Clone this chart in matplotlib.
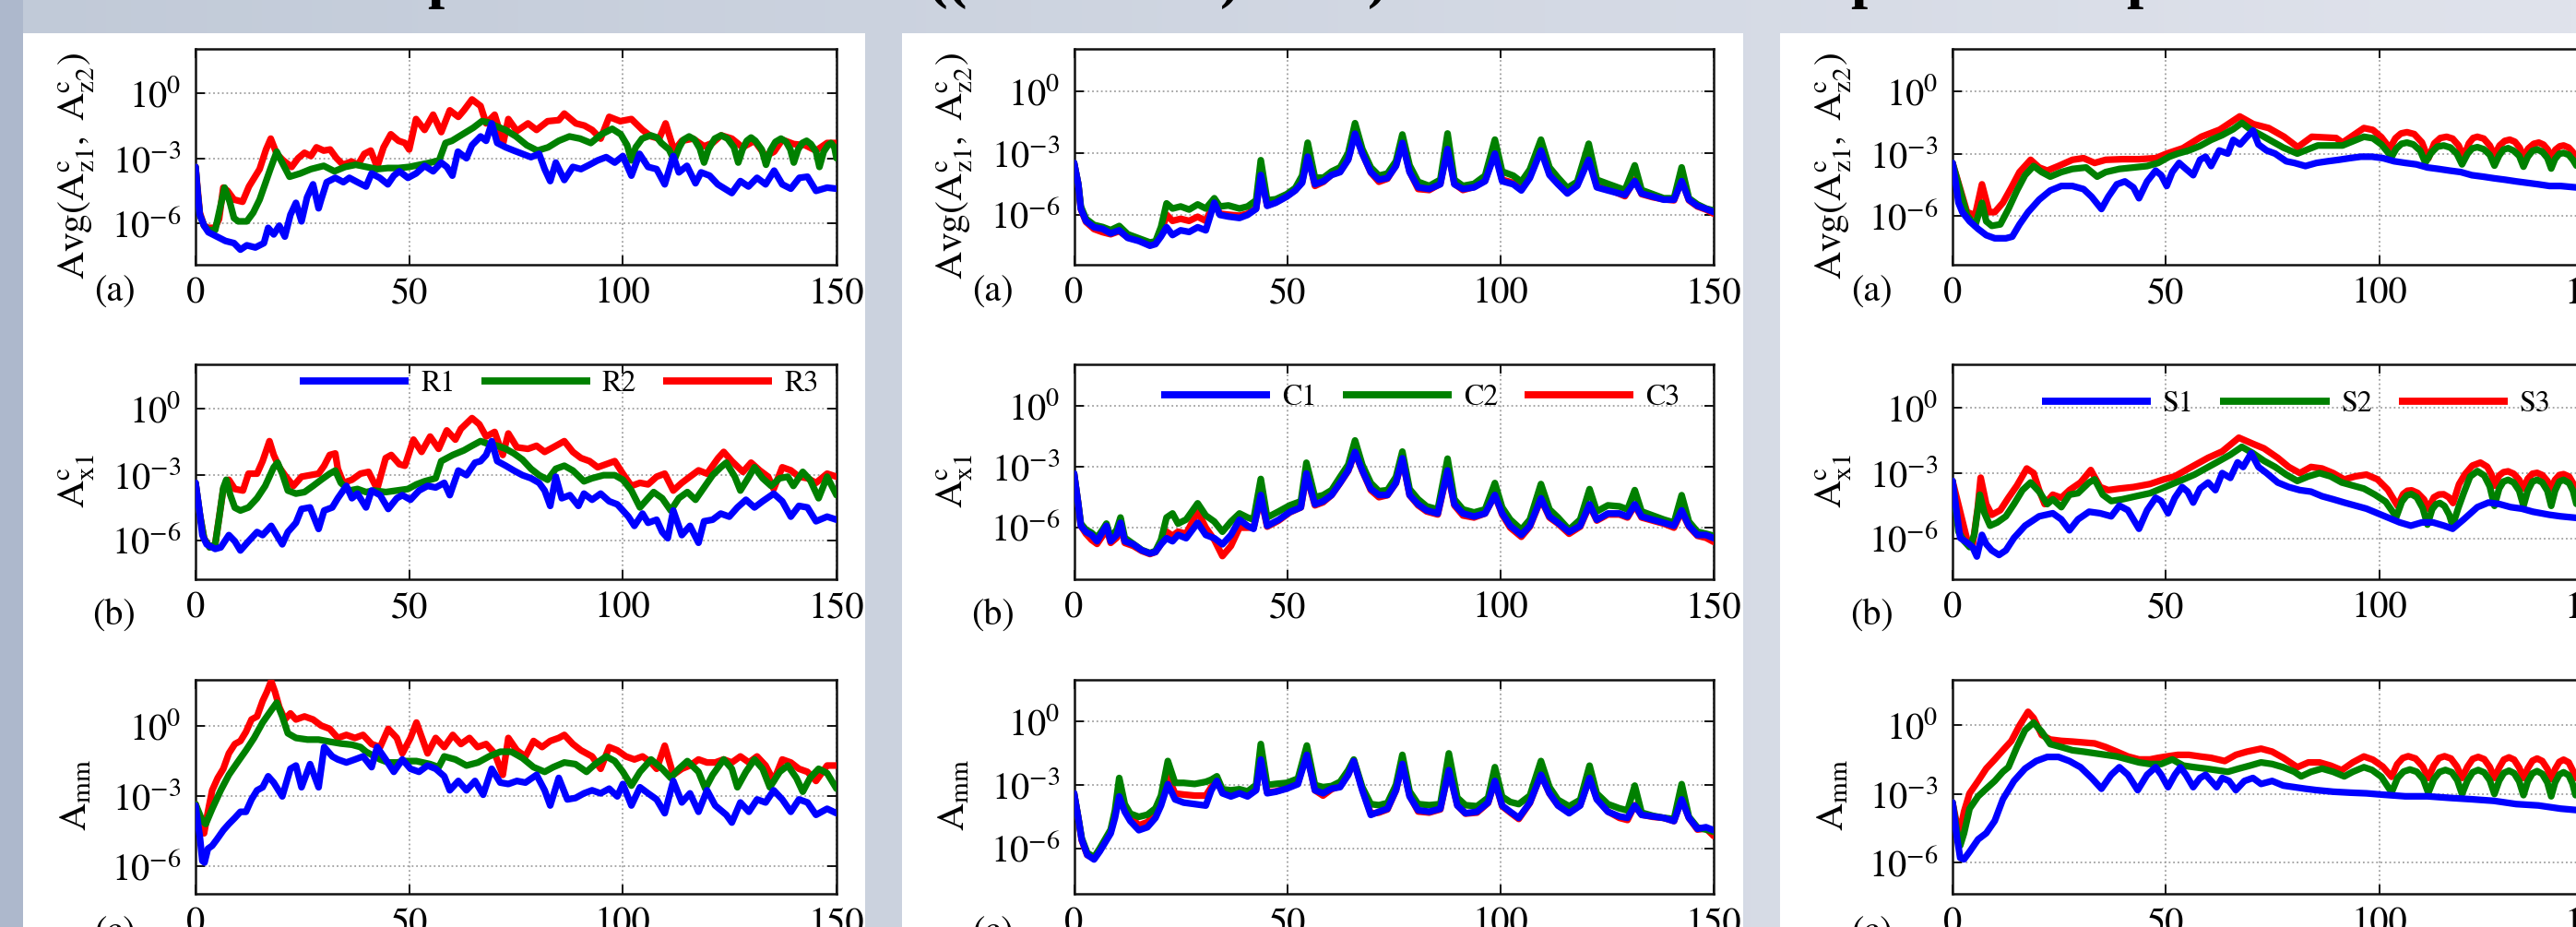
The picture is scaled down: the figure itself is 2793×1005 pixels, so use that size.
import numpy as np
import matplotlib
matplotlib.use('Agg')
import matplotlib.pyplot as plt
from matplotlib.patches import Rectangle
from matplotlib.lines import Line2D
from matplotlib.ticker import NullLocator

plt.rcParams['font.family'] = ['STIXGeneral', 'DejaVu Serif']
plt.rcParams['mathtext.fontset'] = 'stix'
plt.rcParams['axes.unicode_minus'] = False

# ---------------- data (x, log10 of amplitude) ----------------
# Panel 1 : R1 (blue), R2 (green), R3 (red)
p1a_R1 = [(0,-3.4),(0.5,-4.6),(1,-5.6),(2,-6.1),(3,-6.4),(5,-6.6),(7,-6.8),(9,-6.9),(10.5,-7.2),(12,-7.0),(14,-7.1),(16,-6.9),(17,-6.2),(18.3,-6.5),(19.6,-6.1),(20.9,-6.6),(22.2,-5.6),(23.5,-5.05),(24.8,-5.9),(26.1,-4.8),(27.5,-4.2),(28.8,-5.3),(29.4,-4.9),(30.7,-4.1),(32.7,-3.9),(34.6,-4.1),(36,-3.9),(37.9,-4.1),(39.9,-4.3),(41.2,-3.7),(43.1,-3.9),(45,-4.2),(46.4,-3.8),(47.7,-3.6),(49.7,-3.9),(51.6,-3.7),(53.6,-3.35),(55.6,-3.6),(57.5,-3.2),(58.8,-3.4),(60.1,-3.8),(61.4,-2.7),(63.4,-3.0),(64.7,-2.4),(66.7,-2.0),(68,-2.2),(69.3,-1.4),(70.6,-2.3),(72.6,-2.5),(74.5,-2.65),(76.5,-2.8),(78.5,-2.95),(80.4,-2.8),(81.7,-3.5),(83,-4.05),(84.3,-3.2),(86.3,-4.0),(88.3,-3.4),(90.2,-3.5),(92.2,-3.3),(94.1,-3.1),(96.1,-2.95),(98.1,-3.2),(100,-2.9),(102,-3.8),(103.9,-2.8),(105.9,-3.4),(107.9,-3.5),(109.8,-4.2),(111.8,-2.9),(113.1,-3.65),(115,-3.35),(117,-4.15),(118.3,-3.65),(120.3,-3.8),(122.2,-4.2),(125.5,-4.6),(127.5,-4.05),(129.4,-4.3),(131.4,-3.9),(133.4,-4.2),(135.4,-3.57),(137.3,-4.2),(139.3,-4.4),(141.3,-3.9),(143.2,-3.85),(145.2,-4.5),(147.8,-4.35),(150,-4.4)]
p1a_R2 = [(0,-3.4),(0.5,-4.6),(1,-5.6),(2,-6.1),(3,-6.3),(4.6,-6.3),(5.5,-5.5),(6.8,-4.35),(8,-5.0),(9,-5.75),(10,-5.9),(12,-5.9),(13.5,-5.5),(15,-4.9),(17.5,-3.5),(19,-2.7),(20,-3.1),(22,-3.85),(24.5,-3.7),(27,-3.5),(30,-3.35),(32.5,-3.6),(35,-3.4),(37.5,-3.3),(40,-3.4),(42.5,-3.5),(45,-3.45),(47.5,-3.45),(50,-3.4),(52.5,-3.3),(55,-3.2),(57,-3.1),(58.5,-2.3),(60,-2.2),(62.5,-1.9),(65,-1.6),(67,-1.3),(68.5,-1.35),(70,-1.5),(72.5,-1.7),(75,-2.0),(77.5,-2.4),(80,-2.65),(82.5,-2.5),(85,-2.2),(87.5,-2.0),(90,-2.1),(92.5,-2.3),(95,-1.9),(97.5,-1.65),(99.5,-1.9),(101,-2.4),(102,-3.1),(103,-2.5),(104.5,-2.1),(106.5,-1.95),(108,-2.05),(109,-2.3),(110.8,-2.6),(112,-3.1),(113.2,-2.5),(114.2,-2.15),(115.5,-2.0),(116.8,-2.15),(118,-2.55),(119,-3.2),(120,-2.6),(121.5,-2.1),(123,-1.95),(124.5,-2.1),(126,-2.5),(127,-3.2),(128,-2.6),(129,-2.2),(130,-2.05),(131,-2.2),(132.5,-2.6),(133.5,-3.3),(134.5,-2.65),(135.7,-2.25),(137,-2.1),(138.2,-2.25),(139.2,-2.6),(140,-3.2),(141,-2.6),(142,-2.3),(143,-2.2),(144,-2.35),(145.2,-2.7),(146,-3.4),(147,-2.7),(148,-2.4),(148.7,-2.3),(149.5,-2.5),(150,-3.0)]
p1a_R3 = [(0,-3.4),(1,-5.5),(2,-6.1),(3,-6.2),(4.5,-6.2),(5.5,-5.8),(6.5,-4.35),(7.5,-4.5),(9,-4.9),(11,-5.0),(12.5,-4.3),(15,-3.5),(16.5,-2.6),(17.6,-2.1),(19,-2.8),(20.5,-3.1),(22.5,-3.4),(24,-3.0),(25.5,-2.75),(27,-2.9),(28.3,-2.5),(30,-2.65),(31.5,-2.6),(33,-3.0),(34.5,-3.3),(36.5,-3.15),(38,-3.3),(39.5,-2.8),(41,-2.65),(42.5,-3.4),(44,-2.5),(45.7,-1.9),(47.5,-2.2),(49,-2.3),(50,-2.6),(51.6,-1.2),(53.6,-1.7),(55.6,-1.0),(57.5,-1.8),(59.5,-0.8),(61.5,-1.1),(62.8,-0.8),(64.7,-0.3),(66.7,-0.6),(68,-1.4),(70,-1.0),(72,-2.3),(73.2,-1.2),(75.2,-1.75),(77.8,-1.4),(79.8,-1.7),(82.4,-1.3),(85,-1.25),(86.3,-0.95),(89,-1.4),(91,-1.5),(92.8,-1.7),(94.8,-2.1),(96.8,-1.1),(99.4,-1.3),(102,-1.2),(104.6,-1.7),(106.6,-2.0),(108.5,-2.1),(110,-1.4),(112,-2.65),(113.8,-2.2),(116.4,-2.1),(119,-2.45),(121,-2.3),(123,-1.95),(125.5,-2.1),(128,-2.5),(130.8,-2.2),(133.4,-2.9),(135.4,-2.7),(137.3,-2.15),(140,-2.35),(142.6,-2.4),(145.2,-2.65),(147.8,-2.3),(150,-2.3)]

p1b_R1 = [(0,-3.37),(1,-4.77),(1.6,-5.75),(2.6,-6.17),(4.6,-6.38),(5.9,-6.31),(7.8,-5.75),(9.2,-6.03),(10.5,-6.45),(12.4,-6.03),(14.4,-5.61),(15.7,-5.75),(17.7,-5.33),(19,-5.75),(20.3,-6.17),(21.6,-5.61),(23.5,-5.19),(24.8,-4.56),(26.8,-4.49),(28.8,-5.47),(30.1,-4.63),(32,-4.49),(33.3,-4.07),(35.3,-3.51),(36.6,-4.07),(37.9,-3.86),(39.9,-4.49),(41.2,-3.72),(43.2,-3.93),(45.1,-4.56),(47.1,-4.07),(48.4,-3.93),(50.3,-4.14),(52.3,-3.72),(54.3,-3.51),(56.2,-3.58),(58.2,-3.37),(59.5,-3.93),(61.5,-2.81),(63.4,-3.02),(65.4,-2.45),(66.7,-2.38),(68,-2.1),(69.3,-1.47),(70.6,-2.38),(72.6,-2.59),(74.5,-2.81),(76.5,-3.02),(78.5,-3.16),(80.4,-3.37),(81.7,-3.72),(83,-4.42),(84.3,-3.09),(85.7,-4.07),(87.6,-3.93),(89.6,-4.42),(90.9,-3.86),(92.8,-4.14),(94.8,-3.86),(96.8,-4.21),(98.7,-4.35),(100,-4.63),(101.3,-4.91),(102.7,-5.33),(104.6,-4.77),(105.9,-5.19),(107.9,-5.05),(109.2,-5.61),(110.5,-5.89),(111.8,-4.63),(113.8,-5.75),(115.7,-5.33),(117.7,-6.1),(119,-5.12),(121,-5.05),(122.9,-4.77),(124.9,-4.91),(126.8,-4.49),(128.8,-4.14),(130.8,-4.49),(132.7,-4.21),(135.3,-3.86),(137.3,-4.21),(139.3,-4.91),(141.2,-4.42),(143.2,-4.49),(145.2,-5.12),(147.8,-4.91),(150,-5.05)]
p1b_R2 = [(0,-3.37),(1,-4.8),(2,-5.9),(3.3,-6.31),(4.6,-6.17),(5.5,-5.0),(6.5,-3.6),(7.2,-3.23),(8.1,-3.9),(9.2,-4.5),(10.5,-4.63),(12.4,-4.49),(14.4,-4.07),(16.3,-3.51),(18.3,-2.66),(19.2,-2.45),(20.3,-2.95),(21.6,-3.72),(23.5,-3.86),(25.5,-3.79),(27.5,-3.51),(29.4,-3.23),(31.4,-2.95),(32.7,-2.81),(34,-3.37),(36,-3.72),(37.9,-3.65),(39.9,-3.79),(41.8,-3.72),(44.5,-3.79),(47.1,-3.72),(49.7,-3.65),(51.7,-3.44),(53.6,-3.3),(56.2,-3.16),(57.5,-2.38),(60.2,-2.1),(62.8,-1.89),(64.7,-1.68),(66.7,-1.47),(68.7,-1.61),(70.6,-1.68),(72.6,-1.82),(74.5,-2.03),(76.5,-2.31),(78.5,-2.73),(80.4,-3.02),(82.4,-3.23),(84.3,-2.73),(86.3,-2.59),(88.3,-2.81),(90.9,-3.3),(92.8,-3.16),(95.5,-3.02),(98.1,-3.02),(100,-3.23),(102,-3.72),(104,-4.49),(105.9,-4.07),(107.2,-3.79),(109.2,-4.07),(111.2,-4.63),(113.1,-4.07),(115.1,-3.79),(117,-4.14),(119,-3.58),(121,-3.02),(122.9,-2.66),(124.2,-2.45),(126.2,-3.09),(127.5,-3.72),(129.5,-3.09),(130.8,-2.66),(132.7,-3.16),(134.7,-3.51),(136.7,-3.16),(138.6,-3.09),(139.9,-3.51),(142.1,-2.87),(143.8,-3.23),(145.8,-4.07),(147.8,-3.09),(150,-3.93)]
p1b_R3 = [(0,-3.37),(1,-4.8),(2,-5.9),(3.3,-6.3),(4.6,-6.17),(6.5,-3.65),(7.8,-3.23),(9.2,-3.65),(11.1,-3.72),(12.4,-2.95),(14.4,-2.95),(15.7,-2.38),(17.3,-1.47),(18.3,-2.1),(19.6,-2.66),(20.9,-3.02),(22.9,-3.51),(24.8,-3.09),(26.8,-3.02),(28.8,-2.95),(30.1,-2.59),(31.4,-2.1),(32.7,-2.03),(33.3,-2.73),(34.6,-3.37),(36.6,-3.23),(38.6,-2.95),(40.5,-2.87),(42.5,-3.65),(44.5,-2.24),(45.8,-2.1),(47.7,-2.52),(49,-2.59),(51,-1.4),(52.9,-1.96),(54.9,-1.26),(56.9,-1.82),(58.8,-0.98),(60.8,-1.4),(62.1,-0.91),(64.7,-0.42),(66.4,-0.7),(68,-1.26),(70,-1.05),(71.9,-2.1),(73.2,-1.12),(75.2,-1.75),(77.8,-1.82),(79.8,-1.68),(81.7,-1.96),(83.7,-1.75),(86.3,-1.47),(88.3,-1.96),(90.2,-2.24),(92.2,-2.38),(94.1,-2.66),(96.1,-2.52),(98.1,-2.38),(100,-2.95),(102,-3.51),(104,-3.37),(105.9,-3.44),(107.9,-3.09),(109.8,-2.95),(111.8,-3.72),(113.8,-3.37),(115.7,-3.09),(117.7,-2.8),(119.7,-2.95),(122.3,-2.24),(123.6,-1.96),(125.5,-2.38),(128.1,-2.87),(130,-2.45),(132,-2.8),(134,-3.09),(135.3,-3.65),(137.3,-2.66),(139.3,-2.8),(141.2,-3.09),(143.2,-3.16),(145.2,-3.37),(147.8,-2.95),(150,-3.09)]

p1c_R1 = [(0,-3.39),(1,-4.71),(1.6,-5.76),(2.1,-5.83),(2.9,-5.24),(3.9,-5.11),(5,-4.84),(6.5,-4.45),(7.8,-4.18),(9.2,-3.92),(10.5,-3.66),(11.8,-3.66),(13.1,-3.13),(14.4,-2.74),(15.7,-2.61),(17,-2.14),(18.3,-2.41),(20.3,-3.0),(22.2,-1.82),(23.5,-1.68),(24.8,-2.61),(26.8,-1.62),(28.8,-2.61),(30.1,-0.89),(32,-1.29),(33.3,-1.42),(35.3,-1.55),(37.3,-1.42),(39.2,-1.29),(41.2,-1.75),(42.5,-0.89),(44.5,-1.42),(46.4,-1.95),(48.4,-1.42),(50.3,-1.82),(52.3,-1.95),(54.3,-1.68),(56.2,-1.82),(58.2,-2.14),(59.5,-2.74),(61.5,-2.34),(63.4,-2.74),(65.4,-2.34),(67.3,-2.93),(69.3,-1.82),(71.3,-2.41),(73.2,-2.47),(75.2,-2.34),(77.2,-2.41),(79.8,-2.08),(81.7,-2.74),(83,-3.39),(85,-2.21),(87,-3.13),(88.9,-3.07),(90.9,-2.87),(92.8,-2.74),(94.8,-2.87),(96.8,-2.67),(98.7,-3.0),(100,-2.47),(102,-3.39),(104,-2.61),(105.9,-2.87),(107.9,-3.13),(109.8,-3.72),(111.8,-2.34),(113.8,-3.26),(115.7,-2.87),(117.7,-3.66),(119.7,-2.74),(121.6,-3.39),(124.2,-3.79),(125.5,-4.12),(127.5,-3.26),(129.5,-3.66),(131.4,-3.13),(133.4,-3.26),(135.3,-2.74),(137.3,-3.13),(139.3,-3.66),(141.2,-3.13),(143.2,-3.26),(145.2,-3.79),(147.8,-3.53),(150,-3.72)]
p1c_R2 = [(0,-3.33),(1.6,-4.05),(2.4,-4.18),(3.9,-3.53),(5.9,-2.74),(7.8,-2.08),(9.8,-1.55),(11.8,-1.03),(13.7,-0.5),(15.7,0.16),(17.7,0.68),(19,1.01),(20.3,0.42),(21.6,-0.3),(23.5,-0.5),(26.2,-0.57),(28.8,-0.57),(31.4,-0.66),(34,-0.74),(36.6,-0.79),(38.6,-0.89),(39.9,-1.09),(41.2,-1.22),(43.2,-1.42),(45.1,-1.55),(47.1,-1.55),(49,-1.49),(51.7,-1.49),(54.9,-1.62),(56.9,-1.75),(58.2,-1.29),(60.8,-1.42),(63.4,-1.68),(66.1,-1.55),(68.7,-1.29),(71.3,-1.09),(73.9,-1.09),(76.5,-1.36),(79.1,-1.75),(81.7,-1.95),(83.7,-1.75),(86.3,-1.55),(88.9,-1.62),(91.5,-1.95),(93.5,-1.62),(96.1,-1.29),(98.1,-1.49),(100,-1.95),(102,-2.54),(104,-1.95),(106.6,-1.42),(109.2,-1.82),(111.2,-2.21),(113.1,-1.82),(115.1,-1.49),(117.7,-1.95),(119.3,-2.67),(121,-2.08),(123.6,-1.42),(125.5,-1.82),(126.8,-2.61),(128.8,-1.95),(130.8,-1.42),(132.7,-1.82),(134.4,-2.61),(136.7,-1.95),(138.6,-1.68),(140.6,-2.21),(142.1,-2.8),(143.8,-2.21),(145.8,-1.82),(147.8,-2.01),(150,-2.67)]
p1c_R3 = [(0,-3.33),(2,-4.58),(2.9,-3.66),(3.9,-2.74),(5.2,-2.21),(6.5,-1.82),(7.8,-1.16),(9.2,-0.76),(10.5,-0.63),(11.8,-0.24),(13.1,0.29),(14.4,0.42),(15.7,1.08),(16.7,1.47),(17.7,1.93),(18.6,1.47),(19.6,0.82),(20.9,0.29),(22.2,0.55),(23.5,0.29),(25.5,0.42),(27.5,0.29),(29.4,0.03),(31.4,-0.11),(33.3,-0.5),(35.3,-0.37),(37.3,-0.5),(39.2,-0.37),(41.2,-0.76),(43.2,-0.89),(45.1,-0.11),(47.1,-0.5),(48.4,-1.16),(50.3,-0.5),(51.7,0.16),(53,-0.5),(54.3,-1.16),(56.2,-0.5),(58.2,-0.89),(60.2,-0.37),(62.1,-0.76),(64.1,-0.5),(66,-0.89),(68,-0.76),(70,-1.16),(71.9,-2.08),(73.2,-0.5),(75.2,-1.03),(77.2,-1.29),(79.1,-0.63),(81.1,-0.89),(83,-0.63),(85,-0.5),(86.3,-0.37),(88.3,-0.76),(90.2,-1.03),(92.8,-1.29),(94.8,-1.82),(96.8,-0.89),(98.7,-1.03),(100.7,-1.29),(102.7,-1.42),(104.6,-1.29),(106.6,-1.55),(107.9,-1.82),(109.8,-0.83),(111.8,-2.08),(113.8,-1.82),(115.7,-1.68),(117.7,-1.42),(119.7,-1.55),(121.6,-1.55),(123.6,-1.42),(125.5,-1.55),(127.5,-1.29),(129.5,-1.55),(131.4,-1.29),(133.4,-1.68),(135.3,-2.34),(137.3,-1.42),(139.3,-1.55),(141.2,-1.82),(143.2,-1.95),(145.2,-2.34),(147.8,-1.68),(150,-1.68)]

# Panel 2 : C1 (blue), C2 (green), C3 (red)
p2a_C1 = [(0,-3.48),(1,-4.52),(1.6,-5.72),(2.8,-6.31),(4.7,-6.61),(6.7,-6.69),(8.6,-6.91),(10.6,-6.76),(12.6,-7.13),(15.2,-7.28),(17.8,-7.51),(19.1,-7.43),(20.4,-7.06),(21.7,-6.61),(23.1,-6.99),(25,-6.76),(27,-6.84),(29,-6.61),(30.9,-6.76),(32.9,-5.42),(34.2,-6.01),(36.2,-6.09),(38.8,-6.16),(40.7,-6.01),(42.7,-5.72),(43.8,-4.07),(45.3,-5.57),(47.3,-5.42),(49.9,-5.12),(51.9,-4.82),(53.5,-4.45),(54.8,-3.18),(56.5,-4.52),(58.5,-4.37),(60.4,-4.07),(62.4,-3.93),(64.3,-3.33),(65.9,-2.06),(67.6,-3.03),(69.6,-3.93),(71.5,-4.3),(73.5,-4.22),(75.5,-3.63),(77,-2.51),(78.7,-3.93),(80.7,-4.67),(83.3,-4.75),(85.9,-4.52),(87.6,-2.81),(89.2,-4.52),(91.2,-4.75),(93.8,-4.67),(96.4,-4.37),(98.7,-3.03),(100.4,-4.37),(103,-4.52),(104.9,-4.82),(106.9,-4.22),(109.5,-2.88),(111.5,-4.07),(113.5,-4.52),(115.7,-4.97),(118,-4.6),(120.7,-3.33),(122.6,-4.67),(125.2,-4.82),(129.2,-5.04),(131.5,-4.37),(133.1,-4.97),(135.7,-5.12),(138.3,-5.27),(140.7,-5.27),(142.5,-4.37),(144.2,-5.27),(146.2,-5.57),(148.2,-5.72),(150,-5.87)]
p2a_C2 = [(0,-3.48),(1,-4.52),(1.6,-5.6),(2.8,-6.2),(4.7,-6.5),(6.7,-6.6),(8.6,-6.75),(10.6,-6.55),(12.6,-6.95),(15.2,-7.15),(17.8,-7.35),(19.1,-7.3),(20.4,-6.6),(21.7,-5.45),(23.1,-5.7),(25,-5.6),(27,-5.75),(29,-5.5),(30.9,-5.7),(32.9,-5.2),(34.2,-5.6),(36.2,-5.55),(38.8,-5.7),(40.7,-5.6),(42.7,-5.3),(43.8,-3.35),(45.3,-5.3),(47.3,-5.25),(49.9,-5.0),(51.9,-4.7),(53.5,-4.1),(54.8,-2.5),(56.5,-4.2),(58.5,-4.2),(60.4,-3.9),(62.4,-3.7),(64.3,-3.0),(65.9,-1.55),(67.6,-2.8),(69.6,-3.7),(71.5,-4.1),(73.5,-4.0),(75.5,-3.4),(77,-2.1),(78.7,-3.6),(80.7,-4.4),(83.3,-4.6),(85.9,-4.3),(87.6,-2.05),(89.2,-4.3),(91.2,-4.6),(93.8,-4.5),(96.4,-4.1),(98.7,-2.35),(100.4,-3.9),(103,-4.1),(104.9,-4.4),(106.9,-3.8),(109.5,-2.35),(111.5,-3.7),(113.5,-4.2),(115.7,-4.7),(118,-4.4),(120.7,-2.55),(122.6,-4.3),(125.2,-4.5),(129.2,-4.8),(131.5,-3.6),(133.1,-4.8),(135.7,-5.0),(138.3,-5.2),(140.7,-5.2),(142.5,-3.7),(144.2,-5.2),(146.2,-5.5),(148.2,-5.7),(150,-5.8)]
p2a_C3 = [(0,-3.48),(1,-4.52),(1.6,-5.72),(2.8,-6.35),(4.7,-6.7),(6.7,-6.85),(8.6,-6.95),(10.6,-6.8),(12.6,-7.1),(15.2,-7.25),(17.8,-7.45),(19.1,-7.35),(20.4,-6.9),(21.7,-6.0),(23.1,-6.3),(25,-6.2),(27,-6.3),(29,-6.1),(30.9,-6.3),(32.9,-5.4),(34.2,-5.95),(36.2,-6.0),(38.8,-6.05),(40.7,-5.95),(42.7,-5.7),(43.8,-3.9),(45.3,-5.55),(47.3,-5.4),(49.9,-5.1),(51.9,-4.8),(53.5,-4.4),(54.8,-3.0),(56.5,-4.6),(58.5,-4.4),(60.4,-4.05),(62.4,-3.9),(64.3,-3.3),(65.9,-1.9),(67.6,-3.0),(69.6,-3.95),(71.5,-4.4),(73.5,-4.25),(75.5,-3.6),(77,-2.4),(78.7,-3.9),(80.7,-4.75),(83.3,-4.8),(85.9,-4.5),(87.6,-2.7),(89.2,-4.5),(91.2,-4.8),(93.8,-4.65),(96.4,-4.35),(98.7,-2.9),(100.4,-4.3),(103,-4.45),(104.9,-4.75),(106.9,-4.15),(109.5,-2.8),(111.5,-4.0),(113.5,-4.45),(115.7,-4.9),(118,-4.55),(120.7,-3.2),(122.6,-4.6),(125.2,-4.75),(129.2,-5.1),(131.5,-4.3),(133.1,-5.0),(135.7,-5.15),(138.3,-5.25),(140.7,-5.3),(142.5,-4.3),(144.2,-5.3),(146.2,-5.6),(148.2,-5.75),(150,-5.95)]

p2b_C1 = [(0,-3.33),(1,-4.85),(1.6,-5.91),(2.8,-6.21),(4.1,-6.36),(5.4,-6.67),(6.7,-6.21),(7.6,-5.91),(8.6,-6.67),(10,-6.36),(10.9,-5.76),(11.9,-6.67),(13.9,-6.82),(15.9,-7.12),(17.8,-7.27),(19.1,-7.2),(20.4,-6.82),(21.7,-6.52),(23.1,-6.67),(24.4,-6.36),(26.3,-6.52),(29,-5.76),(30.9,-6.36),(32.9,-6.52),(34.8,-6.82),(36.8,-6.36),(38.8,-5.61),(40.7,-5.91),(42.1,-6.06),(43.8,-4.39),(45.3,-5.91),(48,-5.61),(50.6,-5.23),(53.2,-5.0),(54.5,-3.33),(56.5,-4.85),(58.4,-4.7),(60.4,-4.39),(62.4,-3.79),(64.3,-3.18),(65.9,-2.27),(67.6,-3.18),(69.6,-4.09),(71.5,-4.39),(73.5,-4.39),(75.5,-3.79),(77,-2.58),(78.7,-4.39),(80.7,-4.85),(82.7,-5.15),(85.3,-5.3),(87.6,-3.18),(89.2,-4.85),(91.2,-5.3),(93.8,-5.45),(96.4,-5.3),(98.7,-4.39),(100.4,-5.3),(102.3,-5.91),(104.9,-6.36),(106.9,-5.91),(109.5,-4.55),(111.5,-5.45),(113.5,-5.76),(116.1,-6.21),(118.7,-5.91),(120.9,-4.85),(122.6,-5.61),(125.2,-5.3),(127.9,-5.3),(129.8,-5.45),(131.5,-4.85),(133.1,-5.45),(135.7,-5.61),(138.3,-5.76),(140.7,-5.91),(142.5,-5.15),(144.2,-5.91),(146.2,-6.36),(148.2,-6.36),(150,-6.52)]
p2b_C2 = [(0,-3.33),(1,-4.85),(1.6,-5.8),(2.8,-6.1),(4.1,-6.25),(5.4,-6.5),(6.7,-6.1),(7.6,-5.8),(8.6,-6.5),(10,-6.1),(10.9,-5.5),(11.9,-6.5),(13.9,-6.8),(15.9,-7.1),(17.8,-7.25),(19.1,-7.15),(20.4,-6.6),(21.7,-5.5),(23.1,-5.3),(24.4,-5.8),(26.3,-5.6),(29,-4.8),(30.9,-5.4),(32.9,-5.7),(34.8,-6.2),(36.8,-5.7),(38.8,-5.3),(40.7,-5.5),(42.1,-5.6),(43.8,-3.6),(45.3,-5.5),(48,-5.2),(50.6,-4.9),(53.2,-4.7),(54.5,-2.8),(56.5,-4.5),(58.4,-4.4),(60.4,-4.15),(62.4,-3.5),(64.3,-2.9),(65.9,-1.7),(67.6,-2.9),(69.6,-3.8),(71.5,-4.2),(73.5,-4.15),(75.5,-3.5),(77,-2.25),(78.7,-4.1),(80.7,-4.6),(82.7,-4.95),(85.3,-5.1),(87.6,-2.6),(89.2,-4.6),(91.2,-5.1),(93.8,-5.25),(96.4,-5.1),(98.7,-3.8),(100.4,-5.0),(102.3,-5.6),(104.9,-6.1),(106.9,-5.6),(109.5,-3.85),(111.5,-5.1),(113.5,-5.5),(116.1,-6.1),(118.7,-5.6),(120.9,-4.1),(122.6,-5.2),(125.2,-4.9),(127.9,-4.95),(129.8,-5.1),(131.5,-4.15),(133.1,-5.2),(135.7,-5.4),(138.3,-5.6),(140.7,-5.75),(142.5,-4.4),(144.2,-5.7),(146.2,-6.2),(148.2,-6.3),(150,-6.4)]
p2b_C3 = [(0,-3.33),(1,-4.85),(1.6,-5.91),(2.8,-6.3),(4.1,-6.6),(5.4,-6.8),(6.7,-6.4),(7.6,-6.0),(8.6,-6.75),(10,-6.5),(10.9,-5.9),(11.9,-6.75),(13.9,-6.9),(15.9,-7.15),(17.8,-7.3),(19.1,-7.2),(20.4,-6.8),(21.7,-6.2),(23.1,-6.4),(24.4,-6.2),(26.3,-6.3),(29,-5.2),(30.9,-6.0),(32.9,-6.6),(34.8,-7.4),(36.8,-6.9),(38.8,-6.0),(40.7,-6.0),(42.1,-6.0),(43.8,-4.5),(45.3,-5.95),(48,-5.65),(50.6,-5.25),(53.2,-5.0),(54.5,-3.4),(56.5,-4.9),(58.4,-4.75),(60.4,-4.4),(62.4,-3.8),(64.3,-3.2),(65.9,-2.3),(67.6,-3.2),(69.6,-4.15),(71.5,-4.5),(73.5,-4.4),(75.5,-3.8),(77,-2.6),(78.7,-4.4),(80.7,-4.9),(82.7,-5.2),(85.3,-5.35),(87.6,-3.2),(89.2,-4.9),(91.2,-5.4),(93.8,-5.5),(96.4,-5.3),(98.7,-4.4),(100.4,-5.35),(102.3,-6.0),(104.9,-6.45),(106.9,-5.95),(109.5,-4.6),(111.5,-5.5),(113.5,-5.8),(116.1,-6.3),(118.7,-5.95),(120.9,-4.9),(122.6,-5.65),(125.2,-5.35),(127.9,-5.35),(129.8,-5.5),(131.5,-4.9),(133.1,-5.5),(135.7,-5.65),(138.3,-5.8),(140.7,-6.0),(142.5,-5.2),(144.2,-5.95),(146.2,-6.4),(148.2,-6.5),(150,-6.7)]

p2c_C1 = [(0,-3.39),(1,-4.55),(1.8,-5.57),(3.1,-6.29),(4.7,-6.51),(6,-6.14),(7.3,-5.71),(8.6,-5.28),(9.6,-4.55),(10.6,-3.54),(11.9,-4.26),(13.2,-4.7),(15.2,-5.13),(17.2,-4.99),(19.1,-4.55),(20.4,-3.97),(22,-2.96),(23.7,-3.68),(25.7,-3.83),(28.3,-3.9),(30.9,-3.97),(32.2,-3.25),(33.5,-2.81),(34.8,-3.39),(36.8,-3.54),(38.8,-3.39),(40.7,-3.54),(42.7,-3.25),(43.8,-1.8),(45.3,-3.39),(47.3,-3.32),(49.9,-3.17),(52.5,-2.96),(54.6,-1.58),(56.5,-3.25),(58.4,-3.39),(60.4,-3.17),(62.4,-3.1),(64.3,-2.52),(65.6,-1.87),(67.6,-3.25),(69.6,-4.41),(71.5,-4.26),(73.5,-4.12),(75.5,-3.25),(77,-2.01),(78.7,-3.54),(80.7,-4.19),(83.3,-4.26),(85.9,-4.12),(87.9,-2.3),(89.9,-3.97),(91.8,-4.33),(94.5,-4.26),(97.1,-3.83),(98.7,-2.81),(100.4,-3.97),(102.3,-4.26),(104.3,-4.55),(106.9,-3.83),(109.5,-2.52),(111.5,-3.39),(113.5,-3.97),(116.1,-4.33),(118.7,-3.97),(120.9,-2.67),(122.6,-3.68),(125.2,-4.26),(127.9,-4.48),(129.8,-4.55),(131.5,-3.97),(133.1,-4.41),(135.7,-4.48),(138.3,-4.55),(140.7,-4.7),(142.5,-3.68),(144.2,-4.55),(146.2,-5.06),(148.2,-4.99),(150,-5.13)]
p2c_C2 = [(0,-3.39),(1,-4.55),(1.8,-5.5),(3.1,-6.2),(4.7,-6.4),(6,-6.0),(7.3,-5.55),(8.6,-5.1),(9.6,-4.2),(10.6,-2.67),(11.9,-3.9),(13.2,-4.35),(15.2,-4.5),(17.2,-4.4),(19.1,-4.1),(20.4,-3.5),(22,-1.87),(23.7,-2.9),(25.7,-2.9),(28.3,-2.95),(30.9,-2.85),(32.2,-2.75),(33.5,-2.59),(34.8,-3.2),(36.8,-3.25),(38.8,-3.2),(40.7,-3.3),(42.7,-3.0),(43.8,-1.07),(45.3,-3.0),(47.3,-2.95),(49.9,-2.9),(52.5,-2.7),(54.6,-1.14),(56.5,-3.0),(58.4,-3.1),(60.4,-3.05),(62.4,-2.85),(64.3,-2.3),(65.6,-1.8),(67.6,-3.1),(69.6,-3.9),(71.5,-3.95),(73.5,-3.85),(75.5,-3.0),(77,-1.58),(78.7,-3.3),(80.7,-3.9),(83.3,-3.95),(85.9,-3.9),(87.9,-1.51),(89.9,-3.6),(91.8,-3.95),(94.5,-4.0),(97.1,-3.6),(98.7,-2.16),(100.4,-3.55),(102.3,-3.8),(104.3,-3.9),(106.9,-3.5),(109.5,-1.87),(111.5,-3.1),(113.5,-3.7),(116.1,-4.0),(118.7,-3.7),(120.9,-2.09),(122.6,-3.4),(125.2,-3.9),(127.9,-4.1),(129.8,-4.2),(131.5,-3.03),(133.1,-4.3),(135.7,-4.45),(138.3,-4.55),(140.7,-4.6),(142.5,-2.96),(144.2,-4.5),(146.2,-5.0),(148.2,-5.1),(150,-5.2)]
p2c_C3 = [(0,-3.39),(1,-4.55),(1.8,-5.6),(3.1,-6.3),(4.7,-6.45),(6,-6.1),(7.3,-5.65),(8.6,-5.2),(9.6,-4.4),(10.6,-3.2),(11.9,-4.1),(13.2,-4.5),(15.2,-4.9),(17.2,-4.75),(19.1,-4.4),(20.4,-3.8),(22,-2.6),(23.7,-3.4),(25.7,-3.45),(28.3,-3.5),(30.9,-3.5),(32.2,-3.1),(33.5,-2.8),(34.8,-3.35),(36.8,-3.5),(38.8,-3.35),(40.7,-3.5),(42.7,-3.2),(43.8,-1.6),(45.3,-3.35),(47.3,-3.3),(49.9,-3.15),(52.5,-2.9),(54.6,-1.5),(56.5,-3.25),(58.4,-3.5),(60.4,-3.2),(62.4,-3.05),(64.3,-2.5),(65.6,-1.85),(67.6,-3.2),(69.6,-4.35),(71.5,-4.3),(73.5,-4.15),(75.5,-3.25),(77,-1.95),(78.7,-3.5),(80.7,-4.25),(83.3,-4.3),(85.9,-4.15),(87.9,-2.25),(89.9,-3.95),(91.8,-4.35),(94.5,-4.3),(97.1,-3.85),(98.7,-2.8),(100.4,-4.0),(102.3,-4.3),(104.3,-4.6),(106.9,-3.85),(109.5,-2.5),(111.5,-3.4),(113.5,-3.95),(116.1,-4.3),(118.7,-3.95),(120.9,-2.65),(122.6,-3.65),(125.2,-4.25),(127.9,-4.55),(129.8,-4.65),(131.5,-3.95),(133.1,-4.4),(135.7,-4.5),(138.3,-4.55),(140.7,-4.7),(142.5,-3.65),(144.2,-4.55),(146.2,-5.1),(148.2,-5.05),(150,-5.4)]

# Panel 3 : S1 (blue), S2 (green), S3 (red)
p3a_S1 = [(0,-3.44),(0.8,-4.47),(1.4,-5.36),(2.3,-5.81),(4,-6.25),(6,-6.62),(7.9,-6.92),(9.9,-7.07),(12.5,-7.07),(14,-6.99),(15.7,-6.4),(17.7,-5.81),(20.3,-5.21),(22.9,-4.77),(25.5,-4.55),(28.1,-4.55),(30.7,-4.7),(32.6,-5.07),(34.9,-5.66),(36.5,-5.07),(38.5,-4.47),(40.4,-4.33),(42.4,-4.62),(43.7,-5.14),(45.6,-4.33),(47.6,-3.81),(48.9,-4.03),(50.2,-4.55),(51.5,-3.88),(53.1,-3.44),(54.7,-3.73),(56.4,-4.03),(58,-3.29),(59.3,-3.14),(60.6,-3.59),(62.5,-2.84),(64.5,-2.99),(65.8,-2.33),(67.4,-2.55),(69,-2.18),(70.4,-1.88),(71.7,-2.55),(73.6,-2.84),(75.6,-2.99),(78.2,-3.36),(80.1,-3.44),(82.7,-3.59),(85.3,-3.44),(87.9,-3.36),(90.5,-3.29),(93.1,-3.21),(95.7,-3.14),(98.3,-3.14),(100.9,-3.21),(103.5,-3.36),(106.1,-3.44),(108.7,-3.51),(111.3,-3.66),(113.9,-3.73),(116.5,-3.81),(119.1,-3.88),(121.7,-4.03),(124.3,-4.1),(126.9,-4.18),(129.5,-4.25),(132.1,-4.33),(134.7,-4.4),(137.3,-4.47),(139.9,-4.55),(142.5,-4.55),(146.2,-4.62),(150,-4.7)]
p3a_S2 = [(0,-3.44),(3.4,-5.96),(5.3,-6.47),(6.9,-5.36),(7.9,-6.25),(9.2,-6.47),(11.2,-6.4),(13.1,-5.66),(15.1,-4.77),(17,-4.03),(19,-3.59),(20.9,-3.88),(22.9,-4.1),(25.5,-3.88),(28.1,-3.73),(31.3,-3.66),(33.9,-4.1),(35.9,-3.88),(39.1,-3.73),(42.4,-3.66),(45.6,-3.59),(48.2,-3.44),(50.8,-3.14),(52.8,-2.99),(55.4,-2.84),(58,-2.62),(60.6,-2.33),(63.2,-2.1),(65.8,-1.81),(67.8,-1.51),(69.7,-1.81),(72.3,-2.1),(74.9,-2.4),(77.5,-2.7),(80.8,-2.99),(85.6,-2.6),(91.4,-2.6),(96.4,-2.18),(98.5,-2.25),(100.5,-2.55),(102.9,-3.15),(104,-2.75),(105.2,-2.52),(106.5,-2.46),(108,-2.55),(109.6,-2.85),(110.8,-3.43),(112.2,-2.95),(113.6,-2.66),(115.1,-2.6),(116.7,-2.7),(118.2,-3.0),(119.4,-3.51),(120.7,-3.0),(121.8,-2.74),(123,-2.68),(124.5,-2.78),(125.9,-3.05),(127,-3.57),(128.1,-3.08),(129.1,-2.8),(130.2,-2.73),(131.5,-2.85),(132.8,-3.1),(133.8,-3.62),(134.8,-3.15),(135.9,-2.86),(137,-2.79),(138.2,-2.9),(139.4,-3.2),(140.3,-3.71),(141.2,-3.25),(142.2,-3.0),(143.2,-2.96),(144.4,-3.05),(145.4,-3.3),(146.2,-3.57),(147.5,-3.2),(150,-3.0)]
p3a_S3 = [(0,-3.44),(3.4,-5.81),(5.3,-5.96),(6.9,-4.47),(8.6,-5.81),(9.9,-5.81),(11.8,-5.36),(13.8,-4.62),(15.7,-3.88),(18.3,-3.29),(20.3,-3.66),(22.2,-3.81),(24.8,-3.59),(28.1,-3.29),(30.7,-3.21),(33.3,-3.44),(35.9,-3.29),(39.8,-3.26),(43.7,-3.26),(47.6,-3.21),(50.2,-2.99),(54,-2.73),(58.3,-2.18),(62.6,-1.84),(67.3,-1.2),(70.5,-1.57),(74.1,-1.76),(77.7,-2.18),(80.9,-2.68),(84.2,-2.18),(89.9,-2.24),(91.4,-2.46),(96.4,-1.76),(98.5,-1.85),(100.5,-2.2),(102.5,-2.73),(103.8,-2.25),(105.1,-2.02),(106.5,-1.96),(108.2,-2.05),(110,-2.45),(111.5,-3.23),(112.9,-2.5),(114.3,-2.24),(115.8,-2.18),(117.2,-2.27),(118.6,-2.6),(119.8,-3.15),(121,-2.5),(122,-2.24),(123,-2.18),(124.5,-2.27),(125.9,-2.6),(127,-3.07),(128.2,-2.6),(129.4,-2.38),(130.6,-2.32),(131.8,-2.42),(132.9,-2.7),(133.8,-3.15),(134.9,-2.75),(136.2,-2.52),(137.4,-2.46),(138.5,-2.56),(139.5,-2.8),(140.3,-3.15),(141.3,-2.8),(142.3,-2.64),(143.2,-2.6),(144.4,-2.7),(145.3,-2.9),(146,-3.15),(147.5,-2.8),(150,-2.6)]

p3b_S1 = [(0,-3.35),(1,-4.83),(1.8,-5.96),(3.4,-6.17),(4.7,-6.38),(5.7,-6.81),(6.9,-5.82),(7.9,-6.24),(9.2,-6.53),(10.9,-6.74),(12.5,-6.53),(14.4,-5.96),(17,-5.4),(20.3,-4.97),(23.5,-4.83),(25.5,-5.11),(27.4,-5.61),(29.4,-5.11),(32,-4.76),(34.6,-4.83),(37.2,-4.97),(39.1,-4.48),(41.1,-4.69),(43.7,-5.54),(45.6,-4.69),(47.6,-4.12),(48.9,-4.27),(50.5,-4.83),(52.1,-4.12),(53.8,-3.63),(55.1,-3.84),(56.4,-4.34),(58,-3.7),(59.9,-3.42),(61.6,-3.77),(63.2,-2.99),(65.1,-3.21),(66.8,-2.5),(68.1,-2.71),(70,-2.08),(71.7,-2.71),(73.6,-2.99),(76.2,-3.42),(78.8,-3.63),(81.4,-3.77),(84,-3.84),(86.6,-4.05),(89.2,-4.19),(91.8,-4.34),(94.4,-4.48),(97,-4.62),(99.6,-4.83),(102.2,-5.04),(104.8,-5.25),(107.4,-5.4),(110,-5.25),(112.6,-5.25),(115.2,-5.4),(117.2,-5.54),(119.8,-5.11),(123,-4.55),(125.6,-4.34),(128.2,-4.41),(130.8,-4.55),(133.4,-4.62),(136,-4.76),(139.9,-4.9),(142.5,-4.97),(146.2,-5.04),(150,-5.1)]
p3b_S2 = [(0,-3.35),(1.4,-5.68),(2.7,-6.1),(4,-6.38),(5.1,-5.82),(6.4,-3.98),(7.5,-4.83),(8.8,-5.4),(10.5,-5.25),(12.5,-4.97),(14.4,-4.41),(16.4,-3.77),(18.3,-3.42),(20.3,-3.84),(22.2,-4.41),(23.5,-4.19),(25.5,-4.55),(27.4,-3.98),(29.4,-3.91),(32,-3.42),(33.3,-3.28),(35.2,-3.98),(37.2,-4.27),(39.8,-4.19),(43,-4.05),(46.3,-3.91),(48.9,-3.7),(51.5,-3.49),(54.1,-3.28),(56.7,-3.06),(59.3,-2.78),(61.9,-2.5),(65.1,-2.15),(67.8,-1.79),(70.4,-2.08),(73,-2.43),(75.6,-2.71),(78.2,-3.06),(80.8,-3.35),(83.4,-3.14),(86,-2.99),(88.6,-3.14),(91.2,-3.42),(93.8,-3.56),(96.4,-3.7),(99,-3.98),(101.5,-4.3),(104,-5.0),(105.3,-4.3),(106.4,-4.02),(107.5,-3.95),(108.8,-4.1),(110.2,-4.6),(111.3,-5.35),(112.4,-4.65),(113.3,-4.42),(114.2,-4.36),(115.3,-4.5),(116.4,-4.9),(117.2,-5.4),(118.5,-4.6),(119.8,-3.9),(121.3,-3.15),(123,-2.9),(124.6,-3.1),(125.9,-3.6),(127,-4.49),(128.1,-3.7),(129.1,-3.38),(130.2,-3.3),(131.5,-3.42),(132.8,-3.8),(133.8,-4.49),(134.8,-3.8),(135.9,-3.38),(137,-3.3),(138.2,-3.42),(139.4,-3.8),(140.3,-4.49),(141.2,-3.8),(142.2,-3.38),(143.2,-3.3),(144.5,-3.45),(145.4,-3.8),(146.2,-4.4),(147.5,-3.8),(150,-3.4)]
p3b_S3 = [(0,-3.35),(3.4,-6.03),(4.7,-6.31),(5.9,-4.6),(6.6,-3.2),(7.9,-4.41),(9.2,-4.9),(11.2,-4.69),(13.1,-4.12),(15.1,-3.56),(17.4,-2.78),(19,-2.99),(20.3,-3.77),(21.6,-4.41),(23.5,-3.98),(25.5,-4.12),(27.4,-3.77),(30,-3.42),(32.4,-2.85),(34.6,-3.63),(36.5,-3.77),(39.1,-3.7),(42.4,-3.63),(46.3,-3.49),(49.5,-3.28),(52.1,-3.14),(54.7,-2.85),(57.3,-2.57),(59.9,-2.29),(63.2,-2.0),(67.1,-1.37),(70.4,-1.65),(73,-1.86),(76.2,-2.29),(78.8,-2.71),(81.4,-2.99),(84,-2.71),(86.6,-2.78),(89.2,-2.99),(91.8,-3.28),(94.4,-3.14),(97,-3.06),(99.6,-3.28),(102,-3.75),(104.3,-4.49),(105.6,-3.95),(106.6,-3.8),(107.6,-3.78),(109,-3.9),(110.5,-4.2),(111.5,-4.62),(112.8,-4.1),(114,-3.97),(115.1,-3.96),(116.3,-4.1),(117.3,-4.36),(118.7,-3.5),(120.1,-3.04),(121.8,-2.65),(123.7,-2.51),(125.3,-2.7),(126.3,-3.05),(127,-3.57),(128.1,-3.1),(129.1,-2.95),(130.2,-2.91),(131.5,-3.02),(132.8,-3.3),(133.8,-3.7),(134.8,-3.25),(135.9,-3.02),(137,-2.98),(138.2,-3.08),(139.4,-3.35),(140.3,-3.7),(141.2,-3.3),(142.2,-3.08),(143.2,-3.04),(144.5,-3.15),(145.4,-3.45),(146,-3.83),(147.5,-3.3),(150,-3.1)]

p3c_S1 = [(0,-3.37),(1,-4.85),(1.8,-5.79),(2.7,-5.85),(4,-5.52),(6,-4.98),(7.9,-4.71),(9.9,-4.17),(11.8,-3.23),(14.4,-2.43),(17,-1.89),(19.6,-1.56),(22.2,-1.38),(24.8,-1.38),(27.4,-1.56),(30,-1.83),(32.6,-2.3),(34.9,-2.77),(37.2,-2.16),(39.1,-1.83),(41.1,-2.16),(43.4,-2.83),(45.6,-2.16),(47.6,-1.83),(48.9,-2.16),(50.5,-2.7),(52.1,-2.16),(53.4,-1.83),(54.7,-2.16),(56.4,-2.7),(58,-2.3),(59.3,-2.16),(60.6,-2.43),(61.9,-2.7),(63.2,-2.3),(64.8,-2.43),(66.4,-2.83),(68.4,-2.43),(70.4,-2.3),(72.3,-2.56),(74.9,-2.43),(77.5,-2.63),(80.1,-2.7),(82.7,-2.77),(85.3,-2.83),(89.2,-2.9),(93.1,-2.94),(97,-2.97),(100.9,-3.03),(106.1,-3.1),(111.3,-3.1),(116.5,-3.17),(121.7,-3.23),(126.9,-3.3),(132.1,-3.44),(137.3,-3.5),(142.5,-3.64),(146.2,-3.7),(150,-3.75)]
p3c_S2 = [(0,-3.37),(1,-4.58),(1.8,-5.25),(2.7,-4.71),(4,-3.64),(6,-3.1),(7.9,-2.77),(9.9,-2.43),(11.8,-2.03),(13.1,-1.83),(15.1,-0.95),(17,-0.21),(19,0.12),(20.9,-0.28),(22.9,-0.82),(25.5,-0.95),(28.1,-1.09),(30.7,-1.15),(33.3,-1.22),(35.9,-1.29),(38.5,-1.36),(41.1,-1.49),(43.7,-1.62),(46.3,-1.69),(48.9,-1.69),(51.5,-1.49),(54.1,-1.76),(56.7,-1.83),(59.3,-1.89),(61.9,-1.96),(64.5,-2.03),(67.1,-1.89),(69.7,-1.76),(72.3,-1.62),(74.9,-1.69),(77.5,-1.83),(80.1,-2.03),(81.7,-2.23),(84,-2.03),(86.6,-1.89),(89.2,-2.03),(91.8,-2.23),(93.8,-2.03),(96.4,-1.83),(98.3,-1.95),(100.5,-2.25),(102.9,-2.93),(104.3,-2.3),(105.7,-2.02),(107.2,-1.93),(108.8,-2.03),(110.3,-2.35),(111.5,-2.95),(112.8,-2.35),(114.1,-2.04),(115.5,-1.95),(117,-2.05),(118.3,-2.4),(119.4,-3.0),(120.7,-2.4),(121.9,-2.05),(123.2,-1.95),(124.6,-2.06),(125.9,-2.4),(127,-3.0),(128.1,-2.42),(129.2,-2.08),(130.4,-1.98),(131.6,-2.09),(132.8,-2.45),(133.8,-3.05),(134.8,-2.45),(135.9,-2.1),(137,-2.0),(138.2,-2.12),(139.4,-2.5),(140.3,-3.1),(141.2,-2.5),(142.2,-2.15),(143.2,-2.05),(144.4,-2.18),(145.3,-2.55),(146,-3.05),(147.5,-2.4),(150,-2.2)]
p3c_S3 = [(0,-3.37),(1,-4.31),(1.8,-4.58),(2.7,-3.77),(4,-2.97),(6,-2.43),(7.9,-1.89),(9.9,-1.49),(11.8,-1.09),(13.8,-0.68),(15.7,-0.01),(17.7,0.59),(19,0.32),(20.9,-0.42),(22.9,-0.62),(25.5,-0.68),(28.1,-0.71),(30.7,-0.75),(33.3,-0.79),(35.9,-0.95),(38.5,-1.15),(41.1,-1.36),(43.7,-1.49),(46.3,-1.49),(48.2,-1.42),(50.2,-1.36),(52.8,-1.29),(55.4,-1.29),(58,-1.36),(60.6,-1.42),(63.8,-1.56),(66.4,-1.29),(69,-1.15),(72.3,-1.02),(74.9,-1.15),(77.5,-1.42),(80.8,-1.83),(83.4,-1.62),(86,-1.62),(88.6,-1.76),(91.2,-1.96),(93.8,-1.62),(96.4,-1.36),(98.5,-1.5),(100.8,-1.8),(102.9,-2.25),(104.2,-1.7),(105.5,-1.43),(106.8,-1.35),(108.5,-1.45),(110.2,-1.8),(111.5,-2.3),(112.8,-1.75),(114,-1.43),(115.3,-1.35),(116.8,-1.45),(118.2,-1.8),(119.4,-2.3),(120.7,-1.8),(121.9,-1.47),(123.2,-1.38),(124.6,-1.48),(125.9,-1.82),(127,-2.3),(128.1,-1.85),(129.2,-1.5),(130.4,-1.4),(131.6,-1.5),(132.8,-1.85),(133.8,-2.3),(134.8,-1.88),(135.9,-1.55),(137,-1.45),(138.2,-1.56),(139.4,-1.9),(140.3,-2.35),(141.2,-1.92),(142.2,-1.6),(143.2,-1.5),(144.4,-1.62),(145.3,-1.95),(146,-2.3),(147.5,-1.8),(150,-1.6)]

# y-axis limits (log10) for each panel/row
YLIM = [[(-7.88, 2.01), (-7.75, 2.03), (-7.18, 2.0)],
        [(-8.42, 2.05), (-8.53, 2.05), (-8.14, 1.97)],
        [(-8.33, 2.04), (-7.84, 1.99), (-7.37, 2.0)]]

XTICKS = [0, 50, 100, 150]
XTICKLABELS = ['0', '50', '100', '150']
YTICKS = [1e-6, 1e-3, 1e0]
YTICKLABELS = [r'$10^{-6}$', r'$10^{-3}$', r'$10^{0}$']
NAMES = [['R1', 'R2', 'R3'], ['C1', 'C2', 'C3'], ['S1', 'S2', 'S3']]
YLABELS = [r'$\mathrm{Avg}(\mathrm{A}_{\mathrm{z}1}^{\mathrm{c}},\ \mathrm{A}_{\mathrm{z}2}^{\mathrm{c}})$',
           r'$\mathrm{A}_{\mathrm{x}1}^{\mathrm{c}}$',
           r'$\mathrm{A}_{\mathrm{mm}}$']
TAGS = ['(a)', '(b)', '(c)']

SERIES = [[[p1a_R1, p1a_R2, p1a_R3], [p1b_R1, p1b_R2, p1b_R3], [p1c_R1, p1c_R2, p1c_R3]],
          [[p2a_C1, p2a_C2, p2a_C3], [p2b_C1, p2b_C2, p2b_C3], [p2c_C1, p2c_C2, p2c_C3]],
          [[p3a_S1, p3a_S2, p3a_S3], [p3b_S1, p3b_S2, p3b_S3], [p3c_S1, p3c_S2, p3c_S3]]]

COLORS = ['#0000ff', '#008000', '#ff0000']

# ---------------- layout (pixels) ----------------
W, H = 2793, 1005
fig = plt.figure(figsize=(W / 100, H / 100), dpi=100)

bg = fig.add_axes([0, 0, 1, 1], zorder=-10)
bg.set_axis_off()
c_left = np.array([193, 202, 216]) / 255.0
c_right = np.array([224, 227, 236]) / 255.0
t = np.linspace(0, 1, 512)
grad = c_left[None, :] * (1 - t[:, None]) + c_right[None, :] * t[:, None]
bg.imshow(grad[None, :, :], aspect='auto', extent=[0, 1, 0, 1])
bg.set_xlim(0, 1)
bg.set_ylim(0, 1)
bg.add_patch(Rectangle((0, 0), 25 / W, 1, color=(0.68, 0.72, 0.80), lw=0))
for x0, x1 in [(25, 938), (978, 1890), (1930, 2800)]:
    bg.add_patch(Rectangle((x0 / W, 0), (x1 - x0) / W, 1 - 36 / H, color='white', lw=0))

# cut-off title glyphs at the top edge
for xs, s in [(463, 'p'), (1005, '(('), (1323, ')'), (1483, ')'), (2006, 'p'), (2305, 'p')]:
    fig.text(xs / W, 1 + 4 / H, s, fontsize=47, fontweight='bold', family='Liberation Serif',
             ha='left', va='baseline', color='black')

AX_LEFT = [212, 1164.5, 2117]
AX_WIDTH = [695, 693.5, 694]
ROW_TOP = [53.3, 395, 736.7]
ROW_BOT = [286.7, 627.7, 969.3]
LABEL_Y = [179.5, 521.7, 861.7]
TAG_Y = [316.5, 666.5, 1012]
LEG_POS = [(325, 416), (1259, 431), (2214, 438)]

for p in range(3):
    for r in range(3):
        lpx, wpx = AX_LEFT[p], AX_WIDTH[p]
        tpx, bpx = ROW_TOP[r], ROW_BOT[r]
        hpx = bpx - tpx
        ax = fig.add_axes([lpx / W, 1 - bpx / H, wpx / W, hpx / H])
        ax.set_facecolor('white')
        for k in (2, 1, 0):
            data = SERIES[p][r][k]
            xs = np.array([d[0] for d in data])
            ys = 10.0 ** np.array([d[1] for d in data])
            ax.plot(xs, ys, color=COLORS[k], lw=5.2, solid_joinstyle='round',
                    solid_capstyle='round', zorder=3 + (2 - k))
        ax.set_yscale('log')
        lo, hi = YLIM[p][r]
        ax.set_ylim(10 ** lo, 10 ** hi)
        ax.set_xlim(0, 150)
        ax.set_xticks(XTICKS)
        ax.set_xticklabels(XTICKLABELS)
        ax.set_yticks(YTICKS)
        ax.set_yticklabels(YTICKLABELS)
        ax.yaxis.set_minor_locator(NullLocator())
        ax.xaxis.set_minor_locator(NullLocator())
        ax.tick_params(direction='in', length=7, width=1.3, top=True, right=True,
                       labelsize=29, colors='black')
        ax.tick_params(axis='x', pad=10)
        ax.tick_params(axis='y', pad=11)
        ax.grid(True, linestyle=':', color='#a0a0a0', linewidth=1.3)
        ax.set_axisbelow(True)
        for s in ax.spines.values():
            s.set_linewidth(1.8)
            s.set_color('#111111')
        ax.text(-129 / wpx, (bpx - LABEL_Y[r]) / hpx, YLABELS[r], transform=ax.transAxes,
                rotation=90, ha='center', va='center', fontsize=30)
        ax.text(-88 / wpx, (bpx - TAG_Y[r]) / hpx, TAGS[r], transform=ax.transAxes,
                ha='center', va='center', fontsize=29, clip_on=False)
        if r == 1:
            lx, ly = LEG_POS[p]
            handles = [Line2D([], [], color=COLORS[k], lw=5.6, solid_capstyle='butt') for k in range(3)]
            ax.legend(handles, NAMES[p], loc='center left',
                      bbox_to_anchor=((lx - lpx) / wpx, (bpx - ly) / hpx),
                      ncol=3, frameon=False, fontsize=23, handlelength=3.7,
                      handletextpad=0.4, columnspacing=0.9, borderpad=0,
                      borderaxespad=0)

fig.savefig('out.png', dpi=100)
